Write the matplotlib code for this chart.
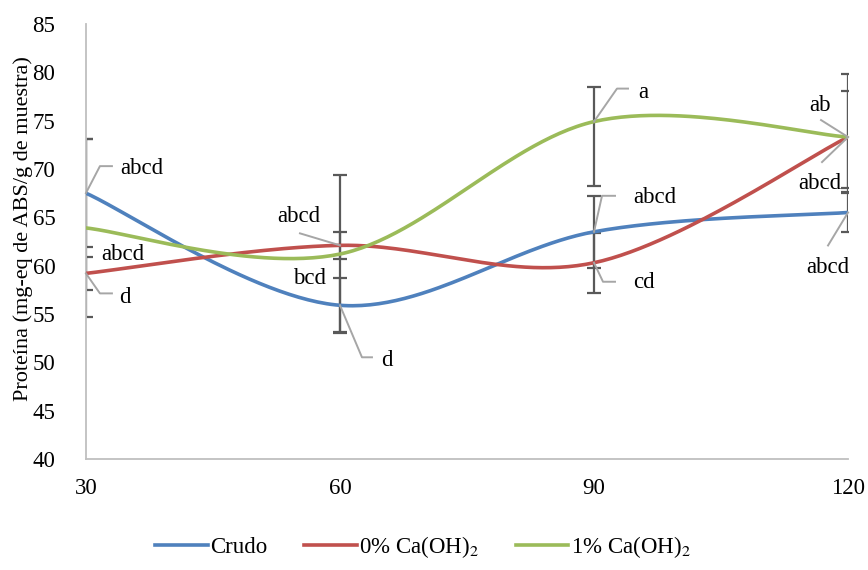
import matplotlib
matplotlib.use('Agg')
import matplotlib.pyplot as plt
from matplotlib.transforms import IdentityTransform
import numpy as np

plt.rcParams['font.family'] = ['Liberation Serif', 'DejaVu Serif']
plt.rcParams['mathtext.fontset'] = 'stix'

# Datos
tiempos = [30, 60, 90, 120]
crudo = [67.5, 55.9, 63.5, 65.5]
cal_0 = [59.2, 62.1, 60.3, 73.3]
cal_1 = [63.9, 61.2, 74.9, 73.3]

# Barras de error (inferior, superior)
crudo_err = [[5.6, 2.8, 3.7, 2.0], [5.6, 2.8, 3.7, 2.0]]
cal_0_err = [[1.7, 1.4, 3.1, 5.7], [1.7, 1.4, 3.1, 6.5]]
cal_1_err = [[9.2, 8.2, 6.7, 5.3], [9.2, 8.2, 3.6, 4.8]]

series = ['Crudo', '0% Ca(OH)$_2$', '1% Ca(OH)$_2$']
colores = ['#4F81BD', '#C0504D', '#9BBB59']

# Letras de significancia: (serie, indice, texto)
letras = [
    (0, 0, 'abcd'), (2, 0, 'abcd'), (1, 0, 'd'),
    (1, 1, 'abcd'), (2, 1, 'bcd'), (0, 1, 'd'),
    (2, 2, 'a'), (0, 2, 'abcd'), (1, 2, 'cd'),
    (2, 3, 'ab'), (1, 3, 'abcd'), (0, 3, 'abcd'),
]
# posicion del texto y linea guia (pixeles respecto al punto)
desp_texto = [(56, 25), (37, -27), (39, -24),
              (-41, 29), (-30, -24), (47, -55),
              (49, 29), (61, 34), (50, -20),
              (-28, 32), (-28, -46), (-20, -55)]
guias = [[(14, 27), (26, 27)], None, [(14, -20), (26, -20)],
         [(-40, 12)], None, [(22, -52), (32, -52)],
         [(23, 33), (34, 33)], [(8, 36), (21, 36)], [(9, -19), (21, -19)],
         [(-27, 17)], [(-26, -25)], [(-20, -33)]]


def suavizar(x, y, n=60):
    # curva suavizada tipo Excel (Bezier con puntos de control Catmull-Rom)
    pts = np.column_stack([x, y]).astype(float)
    ext = np.vstack([pts[0], pts, pts[-1]])
    xs, ys = [], []
    t = np.linspace(0, 1, n)[:, None]
    for i in range(len(pts) - 1):
        p0, p3 = ext[i + 1], ext[i + 2]
        p1 = p0 + (ext[i + 2] - ext[i]) / 6
        p2 = p3 - (ext[i + 3] - ext[i + 1]) / 6
        b = (1 - t) ** 3 * p0 + 3 * (1 - t) ** 2 * t * p1 + 3 * (1 - t) * t ** 2 * p2 + t ** 3 * p3
        xs.extend(b[:, 0])
        ys.extend(b[:, 1])
    return xs, ys


fig = plt.figure(figsize=(8.68, 5.7), dpi=100)
ax = fig.add_axes([0.099, 0.1947, 0.878, 0.7633])

datos = [crudo, cal_0, cal_1]
errores = [crudo_err, cal_0_err, cal_1_err]

for vals, err in zip(datos, errores):
    ax.errorbar(tiempos, vals, yerr=err, fmt='none', ecolor='#595959',
                elinewidth=1.6, capsize=5, capthick=1.6, zorder=2)

for vals, nombre, c in zip(datos, series, colores):
    xs, ys = suavizar(tiempos, vals)
    ax.plot(xs, ys, color=c, linewidth=2.6, label=nombre, zorder=3)

ax.set_xlim(30, 120)
ax.set_ylim(40, 85)

# Etiquetas con lineas guia
for (s, i, txt), (dx, dy), guia in zip(letras, desp_texto, guias):
    x0, y0 = tiempos[i], datos[s][i]
    ax.annotate(txt, xy=(x0, y0), xytext=(dx, dy), textcoords='offset pixels',
                ha='center', va='center', fontsize=16.5, zorder=5)
    if guia:
        px, py = ax.transData.transform((x0, y0))
        gx = [px] + [px + g[0] for g in guia]
        gy = [py] + [py + g[1] for g in guia]
        ax.plot(gx, gy, color='#A6A6A6', lw=1.4, transform=IdentityTransform(),
                clip_on=False, zorder=4)

ax.set_xticks(tiempos)
ax.set_yticks(np.arange(40, 86, 5))
ax.tick_params(axis='both', length=0, labelsize=16.5)
ax.tick_params(axis='y', pad=22)
ax.tick_params(axis='x', pad=14)
for lado in ['top', 'right']:
    ax.spines[lado].set_visible(False)
for lado in ['left', 'bottom']:
    ax.spines[lado].set_color('#BFBFBF')
    ax.spines[lado].set_linewidth(1.3)
ax.set_ylabel('Proteína (mg-eq de ABS/g de muestra)', fontsize=16)
ax.yaxis.set_label_coords(-0.07, 0.53)

fig.legend(loc='center', bbox_to_anchor=(0.487, 0.04), ncol=3, frameon=False,
           fontsize=16.5, handlelength=2.3, handletextpad=0.1, columnspacing=1.6)

plt.savefig('out.png', dpi=100)
